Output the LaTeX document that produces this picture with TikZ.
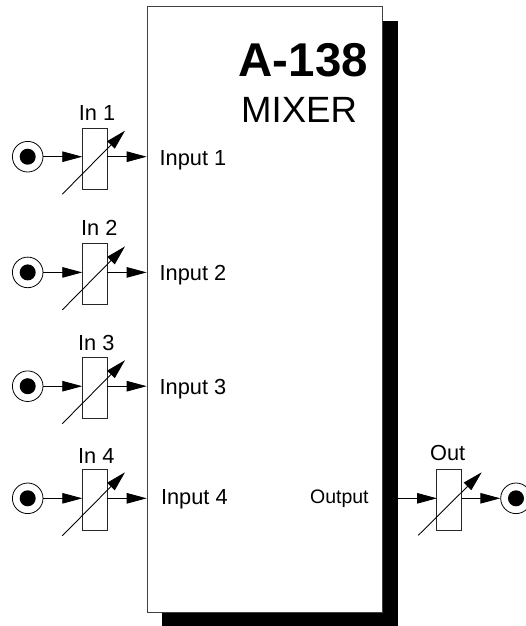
\documentclass[tikz,border=0pt]{standalone}
\usepackage{fontspec}
\setmainfont{Liberation Sans}
\usetikzlibrary{arrows.meta}

\tikzset{
  module/.style={draw=black!75, fill=white, line width=0.55pt, inner sep=0pt, anchor=north west,
                 minimum width=235*0.02cm, minimum height=606.3*0.02cm},
  drop/.style={fill=black, draw=none, inner sep=0pt, anchor=north west,
               minimum width=235.6*0.02cm, minimum height=605.5*0.02cm},
  pot/.style={draw=black!85, fill=white, line width=0.55pt, inner sep=0pt,
              minimum width=25*0.02cm, minimum height=61*0.02cm},
  jack/.style={circle, draw=black, fill=white, line width=0.45pt, inner sep=0pt, minimum size=30.6*0.02cm},
  jackdot/.style={circle, fill=black, inner sep=0pt, minimum size=16*0.02cm},
  wire/.style={-{Triangle[length=0.4cm,width=0.21cm]}, line width=0.5pt, black},
  lbl/.style={font=\fontsize{12.4pt}{14pt}\selectfont, inner sep=0pt}
}

\begin{document}
\begin{tikzpicture}[x=0.02cm, y=-0.02cm]
  \useasboundingbox (0,0) rectangle (526,626);
  \node[drop] (shade) at (161.7,20.7) {};
  \node[module] (mod) at (146.7,6) {};
  \node[font=\bfseries\fontsize{27pt}{30pt}\selectfont, anchor=base east, inner sep=0pt] (type) at (368.3,76.7) {A-138};
  \node[font=\fontsize{20.8pt}{22pt}\selectfont, anchor=base east, inner sep=0pt] (name) at (357.3,122.7) {MIXER};
  % -- inputs --
  \foreach \n/\y/\lx/\ly/\ix/\iy in {1/156.7/97/112.7/159.3/165, 2/272.4/99.3/228/159.3/280.5,
                                     3/386.2/96.3/343.3/159.3/394, 4/498.3/96.3/455.7/160.7/504}{
    \node[jack] (j\n) at (27.7,\y) {};
    \node[jackdot] (d\n) at (27.7,\y) {};
    \node[pot] (p\n) at (94.8,\y+2) {};
    \node[lbl] (t\n) at (\lx,\ly) {In \n};
    \node[lbl, anchor=base west] (i\n) at (\ix,\iy) {Input \n};
    \coordinate (a\n) at (62.3,\y+37.5);
    \coordinate (b\n) at (125,\y-26);
    \coordinate (m\n) at (146.7,\y);
    \coordinate (e\n) at (107.3,\y);
    \coordinate (s\n) at (82.3,\y);
    \draw[wire] (j\n) -- (s\n);
    \draw[wire] (e\n) -- (m\n);
    \draw[wire] (a\n) -- (b\n);
  }
  % -- output --
  \node[lbl, font=\fontsize{11.1pt}{12pt}\selectfont, anchor=base east] (o) at (369,503) {Output};
  \node[lbl] (tout) at (447.7,453.3) {Out};
  \node[pot] (pout) at (449.2,499.8) {};
  \node[jack] (jout) at (516,498.3) {};
  \node[jackdot] (dout) at (516,498.3) {};
  \coordinate (mout) at (397.3,498.3);
  \coordinate (sout) at (437,498.3);
  \coordinate (eout) at (461.5,498.3);
  \coordinate (aout) at (418.3,535.3);
  \coordinate (bout) at (481.7,472.3);
  \draw[wire] (mout) -- (sout);
  \draw[wire] (eout) -- (jout);
  \draw[wire] (aout) -- (bout);
\end{tikzpicture}
\end{document}
